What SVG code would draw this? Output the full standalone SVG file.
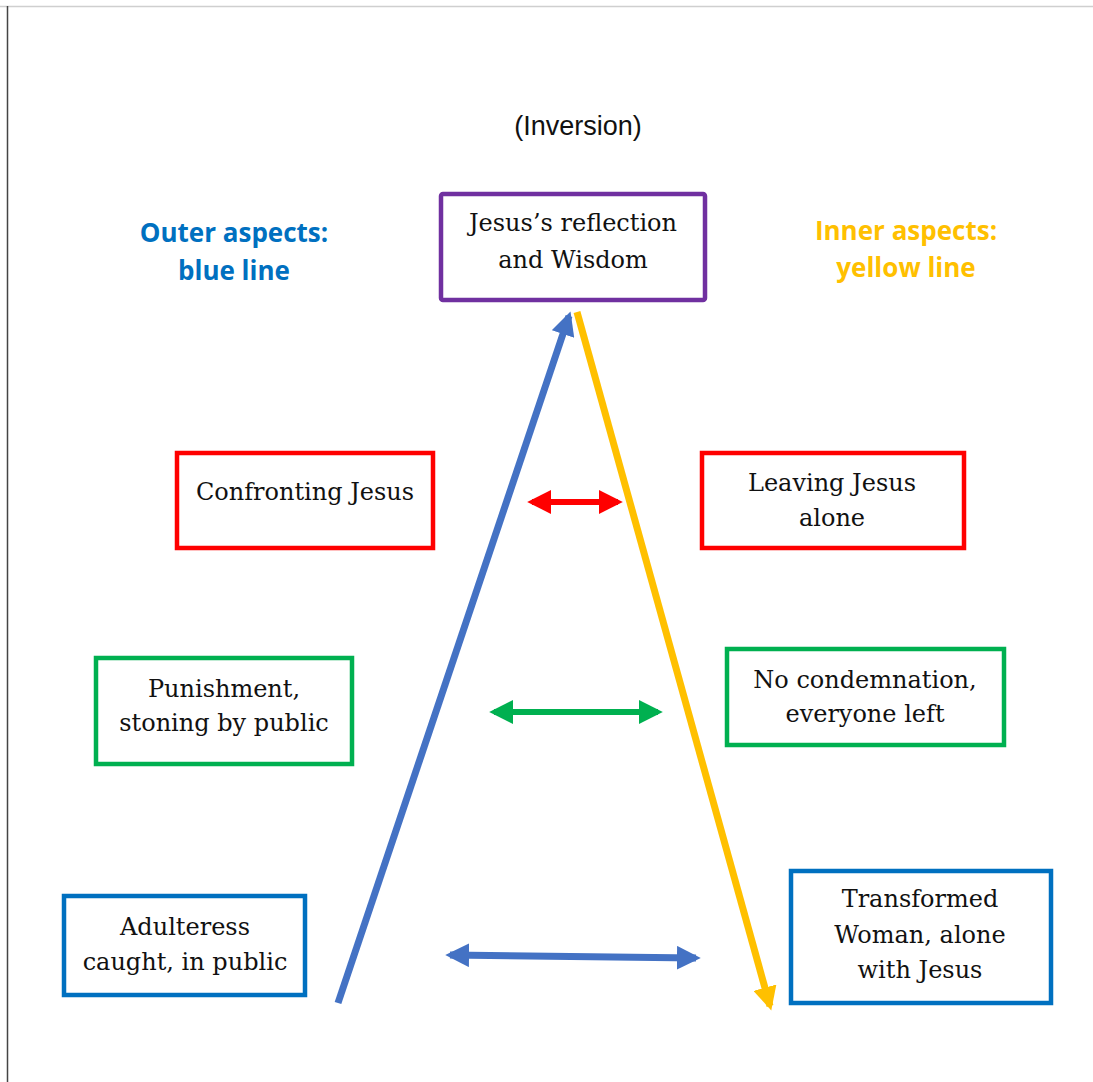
<svg xmlns="http://www.w3.org/2000/svg" width="1093" height="1082" viewBox="0 0 1093 1082">
<defs>
<style>
.box{fill:#fff;stroke-width:4.5}
.t{font-family:"DejaVu Serif","Liberation Serif",serif;font-size:24px;fill:#111;text-anchor:middle}
.h{font-family:"Open Sans","Liberation Sans",sans-serif;font-weight:bold;font-size:26px;text-anchor:middle}
</style>
<marker id="mBlue" viewBox="0 0 10 10" refX="8" refY="5" markerWidth="3.4" markerHeight="3.4" orient="auto-start-reverse"><path d="M0,0 L10,5 L0,10 z" fill="#4472C4"/></marker>
<marker id="mYel" viewBox="0 0 10 10" refX="8" refY="5" markerWidth="3.4" markerHeight="3.4" orient="auto-start-reverse"><path d="M0,0 L10,5 L0,10 z" fill="#FFC000"/></marker>
<marker id="mRed" viewBox="0 0 10 10" refX="8" refY="5" markerWidth="4" markerHeight="4" orient="auto-start-reverse"><path d="M0,0 L10,5 L0,10 z" fill="#FF0000"/></marker>
<marker id="mGreen" viewBox="0 0 10 10" refX="8" refY="5" markerWidth="4" markerHeight="4" orient="auto-start-reverse"><path d="M0,0 L10,5 L0,10 z" fill="#00B050"/></marker>
</defs>
<rect width="1093" height="1082" fill="#fff"/>
<line x1="0" y1="6.5" x2="1093" y2="6.5" stroke="#cfcfcf" stroke-width="1.5"/>
<line x1="7.5" y1="6" x2="7.5" y2="1082" stroke="#444" stroke-width="1.5"/>

<text x="578" y="135" font-family="'Liberation Sans',sans-serif" font-size="27" text-anchor="middle" fill="#111">(Inversion)</text>
<g id="legend-outer"><text class="h" x="234" y="242" fill="#0070C0">Outer aspects:</text><text class="h" x="234" y="280" fill="#0070C0">blue line</text></g>
<g id="legend-inner"><text class="h" x="906" y="240" fill="#FFC000">Inner aspects:</text><text class="h" x="906" y="277" fill="#FFC000">yellow line</text></g>

<g id="connectors">
<line x1="338" y1="1003" x2="569" y2="316" stroke="#4472C4" stroke-width="7" marker-end="url(#mBlue)"/>
<line x1="577" y1="312" x2="770" y2="1006" stroke="#FFC000" stroke-width="7" marker-end="url(#mYel)"/>
<line x1="532" y1="502" x2="618" y2="502" stroke="#FF0000" stroke-width="6" marker-start="url(#mRed)" marker-end="url(#mRed)"/>
<line x1="494" y1="712" x2="658" y2="712" stroke="#00B050" stroke-width="6" marker-start="url(#mGreen)" marker-end="url(#mGreen)"/>
<line x1="450" y1="955" x2="696" y2="958" stroke="#4472C4" stroke-width="7" marker-start="url(#mBlue)" marker-end="url(#mBlue)"/>
</g>

<g id="top"><rect class="box" x="441" y="194" width="264" height="106" stroke="#7030A0" rx="2"/><text class="t" x="573" y="231">Jesus’s reflection</text><text class="t" x="573" y="268">and Wisdom</text></g>
<g id="confronting"><rect class="box" x="177" y="453" width="256" height="95" stroke="#FF0000"/><text class="t" x="305" y="500">Confronting Jesus</text></g>
<g id="leaving"><rect class="box" x="702" y="453" width="262" height="95" stroke="#FF0000"/><text class="t" x="832" y="491">Leaving Jesus</text><text class="t" x="832" y="526">alone</text></g>
<g id="punishment"><rect class="box" x="96" y="658" width="256" height="106" stroke="#00B050"/><text class="t" x="224" y="697">Punishment,</text><text class="t" x="224" y="731">stoning by public</text></g>
<g id="nocondemnation"><rect class="box" x="727" y="649" width="277" height="96" stroke="#00B050"/><text class="t" x="865" y="688">No condemnation,</text><text class="t" x="865" y="722">everyone left</text></g>
<g id="adulteress"><rect class="box" x="64" y="896" width="241" height="99" stroke="#0070C0"/><text class="t" x="185" y="935">Adulteress</text><text class="t" x="185" y="970">caught, in public</text></g>
<g id="transformed"><rect class="box" x="791" y="871" width="260" height="132" stroke="#0070C0"/><text class="t" x="920" y="907">Transformed</text><text class="t" x="920" y="943">Woman, alone</text><text class="t" x="920" y="978">with Jesus</text></g>
</svg>
